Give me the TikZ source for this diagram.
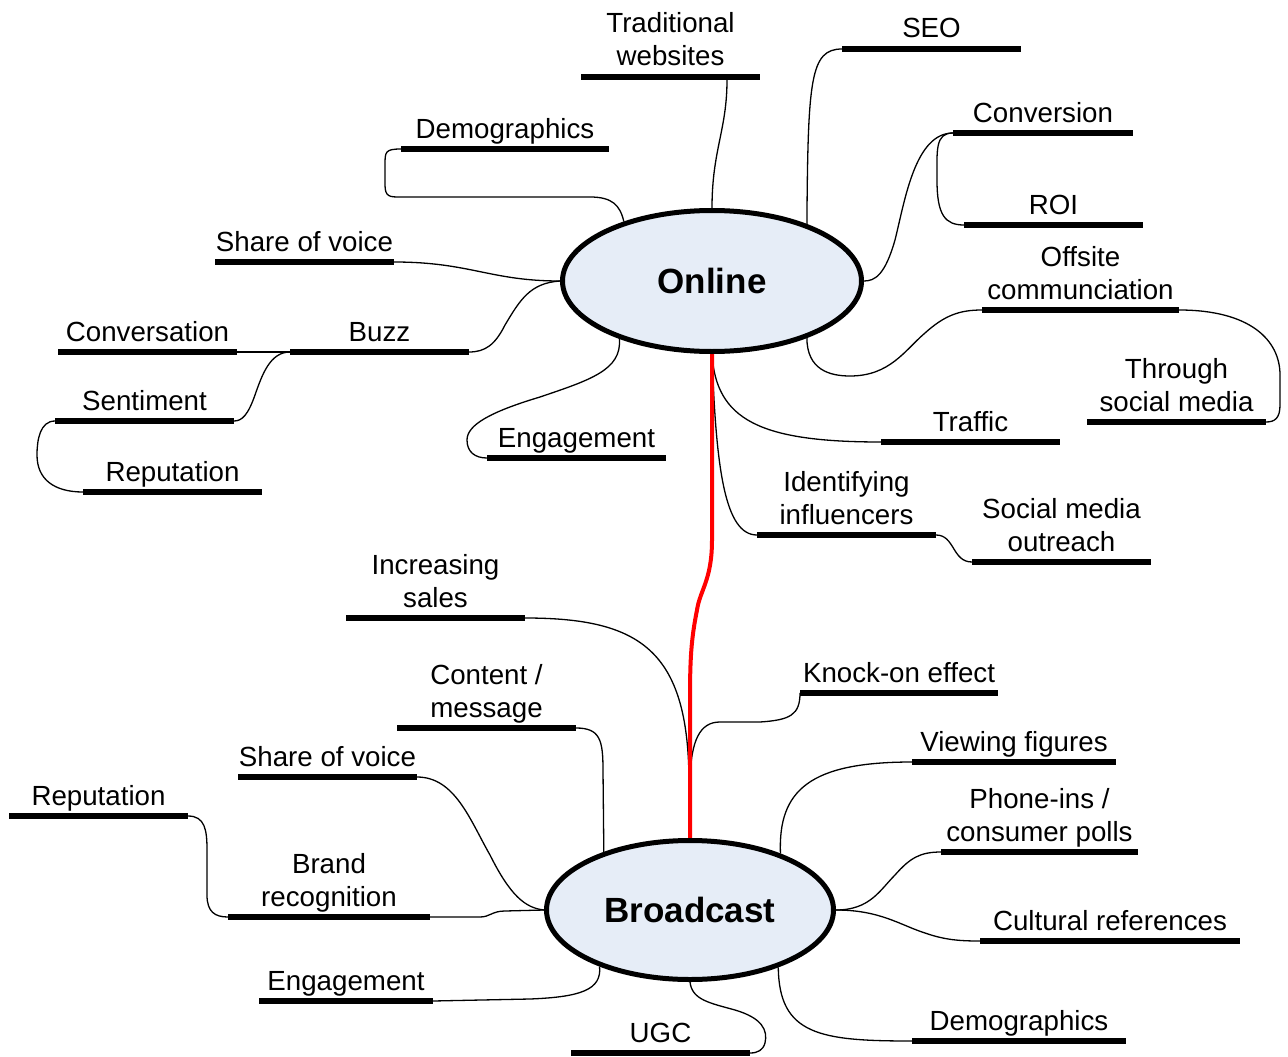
\documentclass[tikz,border=0pt]{standalone}
\usepackage{fontspec}
\setmainfont{Liberation Sans}
\usetikzlibrary{shapes.geometric,backgrounds}
\definecolor{hubfill}{RGB}{230,237,247}
\definecolor{linkred}{RGB}{255,0,0}
\tikzset{
  hub/.style={ellipse, draw=black, line width=5pt, fill=hubfill, inner sep=0pt,
    font=\fontsize{35}{40}\selectfont\bfseries},
  bar/.style={rectangle, fill=black, draw=none, inner sep=0pt, outer sep=0pt, minimum height=6pt},
  lbl/.style={anchor=base, inner sep=0pt, align=center, font=\fontsize{27.7}{33}\selectfont},
  link/.style={draw=black, line width=1.3pt},
  redlink/.style={draw=linkred, line width=4pt}
}
% name, x1, x2, bar y, baseline of last text line, text
\newcommand\leaf[6]{%
  \node[bar, minimum width={#3-#2}] (#1) at ({(#2+#3)/2},#4) {};
  \node[lbl] (#1T) at ({(#2+#3)/2},#5) {#6};
}
\begin{document}
\begin{tikzpicture}[x=1pt,y=-1pt]
\useasboundingbox (0,0) rectangle (1288,1057);
% hubs
\node[hub, minimum width=299pt, minimum height=141pt] (online) at (712,281) {Online};
\node[hub, minimum width=287pt, minimum height=139pt] (broad) at (690,910) {Broadcast};
% online leaves
\leaf{trad}{581}{760}{77}{66}{Traditional\\websites}
\leaf{seo}{842}{1021}{49}{38}{SEO}
\leaf{demo}{401}{609}{149}{138}{Demographics}
\leaf{conv}{953}{1133}{133}{122}{Conversion}
\leaf{roi}{964}{1143}{225}{214}{ROI}
\leaf{sov}{215}{394}{262}{251}{Share of voice}
\leaf{off}{982}{1179}{310}{299}{Offsite\\communciation}
\leaf{convers}{58}{237}{352}{341}{Conversation}
\leaf{buzz}{290}{469}{352}{341}{Buzz}
\leaf{sent}{55}{234}{421}{410}{Sentiment}
\leaf{rep}{83}{262}{492}{481}{Reputation}
\leaf{eng}{487}{666}{458}{447}{Engagement}
\leaf{traf}{881}{1060}{442}{431}{Traffic}
\leaf{thru}{1087}{1266}{422}{411}{Through\\social media}
\leaf{ident}{757}{936}{535}{524}{Identifying\\influencers}
\leaf{smo}{972}{1151}{562}{551}{Social media\\outreach}
% broadcast leaves
\leaf{sales}{346}{525}{618}{607}{Increasing\\sales}
\leaf{knock}{800}{998}{693}{682}{Knock-on effect}
\leaf{content}{397}{576}{728}{717}{Content /\\message}
\leaf{view}{912}{1116}{762}{751}{Viewing figures}
\leaf{bsov}{238}{417}{777}{766}{Share of voice}
\leaf{brep}{9}{188}{816}{805}{Reputation}
\leaf{phone}{941}{1138}{852}{841}{Phone-ins /\\consumer polls}
\leaf{brand}{228}{430}{917}{906}{Brand\\recognition}
\leaf{cult}{980}{1240}{941}{930}{Cultural references}
\leaf{beng}{259}{433}{1001}{990}{Engagement}
\leaf{bdemo}{912}{1126}{1041}{1030}{Demographics}
\leaf{ugc}{571}{750}{1053}{1042}{UGC}
\begin{pgfonlayer}{background}
% online connectors
\draw[link] ([xshift=-33pt]trad.south east) .. controls (727,130) and (712,150) .. (online.90);
\draw[link] (seo.west) .. controls (810,49) and (808,80) .. (online.31);
\draw[link] (conv.west) .. controls (915,133) and (905,200) .. (895,240) .. controls (885,275) and (875,281) .. (online.0);
\draw[link] (conv.west) .. controls (935,133) and (937,150) .. (937,180) .. controls (937,215) and (945,225) .. (roi.west);
\draw[link] (demo.west) .. controls (385,149) and (385,152) .. (385,165) -- (385,185) .. controls (385,197) and (390,197) .. (400,197) -- (590,197) .. controls (612,197) and (620,205) .. (online.146.8);
\draw[link] (sov.east) .. controls (470,262) and (490,281) .. (online.180);
\draw[link] (online.180) .. controls (530,283) and (520,300) .. (505,325) .. controls (495,345) and (485,352) .. (buzz.east);
\draw[link] (convers.east) -- (buzz.west);
\draw[link] (buzz.west) .. controls (270,352) and (262,375) .. (255,395) .. controls (248,415) and (242,421) .. (sent.east);
\draw[link] (sent.west) .. controls (40,421) and (37,440) .. (37,455) .. controls (37,480) and (55,492) .. (rep.west);
\draw[link] (online.212.7) .. controls (622,370) and (590,380) .. (540,397) .. controls (490,412) and (467,425) .. (467,440) .. controls (467,452) and (475,458) .. (eng.west);
\draw[link] (online.329) .. controls (807,370) and (830,376) .. (850,376) .. controls (890,376) and (905,350) .. (925,333) .. controls (945,315) and (960,310) .. (off.west);
\draw[link] (off.east) .. controls (1250,310) and (1280,340) .. (1280,375) -- (1280,405) .. controls (1280,418) and (1275,422) .. (thru.east);
\draw[link] (online.270) .. controls (716,420) and (760,442) .. (traf.west);
\draw[link] (online.270) .. controls (716,470) and (725,535) .. (ident.west);
\draw[link] (ident.east) .. controls (955,535) and (952,562) .. (smo.west);
% broadcast connectors
\draw[link] (sales.east) .. controls (640,618) and (688,650) .. (689,780) -- (broad.90);
\draw[link] (knock.west) .. controls (800,715) and (790,720) .. (760,722) -- (720,722) .. controls (700,722) and (691,740) .. (690,780) -- (broad.90);
\draw[link] (content.east) .. controls (600,728) and (603,740) .. (603,770) -- (broad.146);
\draw[link] (bsov.east) .. controls (455,777) and (470,820) .. (490,855) .. controls (510,895) and (525,908) .. (broad.180);
\draw[link] (brand.east) -- (480,917) .. controls (490,917) and (492,911) .. (505,911) -- (broad.180);
\draw[link] (brep.east) .. controls (205,816) and (207,830) .. (207,850) -- (207,895) .. controls (207,912) and (215,917) .. (brand.west);
\draw[link] (broad.212.9) .. controls (602,990) and (580,997) .. (530,999) -- (beng.east);
\draw[link] (broad.270) .. controls (692,1000) and (710,1003) .. (735,1010) .. controls (762,1018) and (768,1030) .. (765,1043) .. controls (763,1050) and (758,1053) .. (ugc.east);
\draw[link] (broad.32.6) .. controls (778,790) and (810,762) .. (view.west);
\draw[link] (broad.0) .. controls (870,910) and (880,890) .. (895,875) .. controls (910,858) and (920,852) .. (phone.west);
\draw[link] (broad.0) .. controls (880,910) and (900,925) .. (925,933) .. controls (945,940) and (960,941) .. (cult.west);
\draw[link] (broad.327.4) .. controls (779,1035) and (820,1041) .. (bdemo.west);
% red link between hubs
\draw[redlink] (online.270) -- (712,540) .. controls (712,580) and (700,590) .. (697,610) .. controls (691,640) and (690,660) .. (690,700) -- (broad.90);
\end{pgfonlayer}
\end{tikzpicture}
\end{document}
